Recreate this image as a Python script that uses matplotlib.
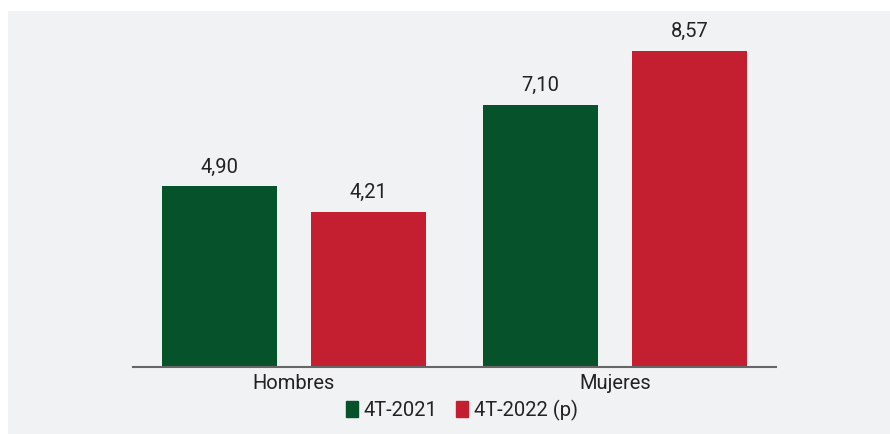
import matplotlib
matplotlib.use("Agg")
import matplotlib.pyplot as plt
from matplotlib.patches import Rectangle, Patch
from matplotlib import font_manager
import numpy as np

categories = ["Hombres", "Mujeres"]
series_names = ["4T-2021", "4T-2022 (p)"]
values_2021 = [4.90, 7.10]
values_2022 = [4.21, 8.57]

colors = ["#06532b", "#c41f31"]
panel_bg = "#f1f2f4"
text_color = "#222222"

avail = {f.name for f in font_manager.fontManager.ttflist}
fam = "Liberation Sans Narrow" if "Liberation Sans Narrow" in avail else "Roboto"
plt.rcParams["font.family"] = [fam, "DejaVu Sans"]

W, H = 890, 434
fig = plt.figure(figsize=(W / 100, H / 100), dpi=100)
fig.patch.set_facecolor("white")
fig.patches.append(Rectangle((8 / W, 0), 1 - 8 / W, (H - 11) / H,
                             transform=fig.transFigure, facecolor=panel_bg,
                             edgecolor="none", zorder=-10))

ax = fig.add_axes([133 / W, (H - 367) / H, 643 / W, 332 / H])
ax.set_zorder(5)
ax.set_facecolor("none")

x = np.arange(len(categories))
bw = 0.358
off = 0.232
b1 = ax.bar(x - off, values_2021, bw, color=colors[0], label=series_names[0], zorder=2)
b2 = ax.bar(x + off, values_2022, bw, color=colors[1], label=series_names[1], zorder=2)

def fmt(v):
    return f"{v:.2f}".replace(".", ",")

for bars, vals in ((b1, values_2021), (b2, values_2022)):
    for rect, v in zip(bars, vals):
        ax.annotate(fmt(v), (rect.get_x() + rect.get_width() / 2, v),
                    xytext=(0, 7), textcoords="offset points",
                    ha="center", va="bottom", fontsize=14.5, color=text_color)

ax.set_xlim(-0.5, 1.5)
ax.set_ylim(0, 9)
ax.set_xticks(x)
ax.set_xticklabels(categories, fontsize=14.5, color=text_color)
ax.tick_params(axis="x", length=0, pad=5)
ax.set_yticks([])
for s in ("top", "right", "left"):
    ax.spines[s].set_visible(False)
ax.spines["bottom"].set_color("#666666")
ax.spines["bottom"].set_linewidth(1.5)

handles = [Patch(color=colors[0]), Patch(color=colors[1])]
leg = fig.legend(handles, series_names, loc="center", bbox_to_anchor=(462 / W, (H - 410) / H),
                 ncol=2, frameon=False, fontsize=14.5, handlelength=0.6, handleheight=0.9,
                 handletextpad=0.3, columnspacing=0.9, labelcolor=text_color)
leg.set_zorder(6)

fig.savefig("out.png", dpi=100, facecolor=fig.get_facecolor())
